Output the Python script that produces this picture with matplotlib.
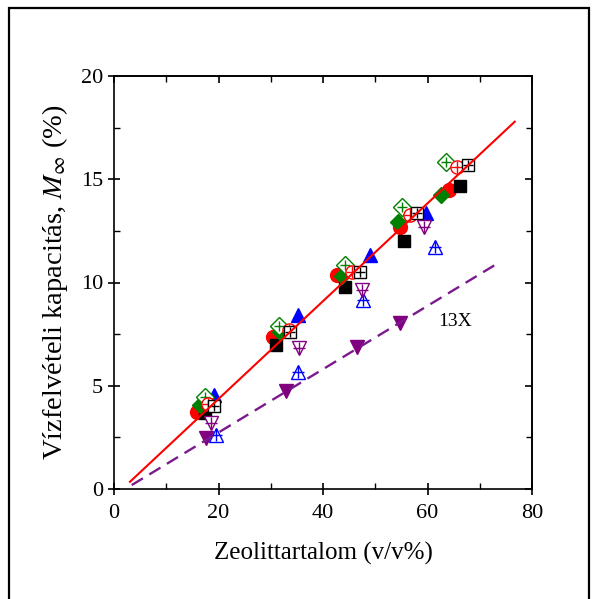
import matplotlib
matplotlib.use("Agg")
import matplotlib.pyplot as plt
from matplotlib.patches import Rectangle
from matplotlib.ticker import MultipleLocator, NullFormatter
import numpy as np

plt.rcParams['font.family'] = ['Liberation Serif', 'DejaVu Serif']
plt.rcParams['mathtext.fontset'] = 'stix'

# zeolite content (v/v%) and water uptake (%) for each sample series
red_x = [15.8, 30.5, 42.6, 54.7, 64.2]
red_y = [3.74, 7.38, 10.36, 12.7, 14.48]
black_x = [17.4, 31.1, 44.2, 55.5, 66.2]
black_y = [3.67, 6.97, 9.8, 12.03, 14.68]
green_x = [16.5, 31.8, 43.6, 54.4, 62.5]
green_y = [4.07, 7.62, 10.31, 12.95, 14.24]
blue_x = [19.2, 35.3, 49.0, 59.8]
blue_y = [4.55, 8.43, 11.33, 13.35]
purple_x = [17.7, 33.0, 46.6, 54.7]
purple_y = [2.45, 4.75, 6.9, 8.04]

green_o_x = [17.4, 31.6, 44.2, 55.1, 63.5]
green_o_y = [4.47, 7.89, 10.85, 13.67, 15.85]
red_o_x = [18.0, 33.4, 45.5, 56.6, 65.6]
red_o_y = [4.1, 7.7, 10.5, 13.27, 15.61]
black_o_x = [19.2, 33.6, 47.1, 57.9, 67.8]
black_o_y = [4.02, 7.58, 10.52, 13.35, 15.69]
blue_o_x = [19.6, 35.2, 47.6, 61.4]
blue_o_y = [2.6, 5.68, 9.15, 11.73]
purple_o_x = [18.6, 35.4, 47.4, 59.4]
purple_o_y = [3.18, 6.81, 9.64, 12.7]

# linear fits: slope, intercept, x range
fit_all = (0.2368, -0.375, 3.06, 76.7)
fit_13x = (0.1533, -0.33, 3.4, 72.8)

fig = plt.figure(figsize=(5.93, 5.99), dpi=100)
ax = fig.add_axes([114 / 593, 1 - 489 / 599, 418 / 593, 413 / 599])

# fit lines
for (k, b, x0, x1), col, lw, ls in [(fit_all, 'red', 1.5, '-'),
                                    (fit_13x, '#7b1a8c', 1.7, (0, (5.5, 3.2)))]:
    xs = np.array([x0, x1])
    ax.plot(xs, k * xs + b, color=col, lw=lw, ls=ls, zorder=3)

# filled symbols
ax.plot(red_x, red_y, 'o', color='red', ms=10, ls='none', zorder=2)
ax.plot(black_x, black_y, 's', color='black', ms=8.5, ls='none', zorder=2)
ax.plot(green_x, green_y, 'D', color='green', ms=8, ls='none', zorder=2)
ax.plot(blue_x, blue_y, '^', color='blue', ms=10.5, ls='none', zorder=2)
ax.plot(purple_x, purple_y, 'v', color='#800080', ms=10.5, ls='none', zorder=2)


def crossed(x, y, marker, color, ms):
    # open symbol with a cross inside
    ax.plot(x, y, marker, mfc='white', mec=color, mew=1.0, ms=ms, ls='none', zorder=2)
    ax.plot(x, y, '+', color=color, mew=1.0, ms=ms * 0.85, ls='none', zorder=2)


crossed(green_o_x, green_o_y, 'D', 'green', 9)
crossed(red_o_x, red_o_y, 'o', 'red', 9.5)
crossed(black_o_x, black_o_y, 's', 'black', 8)
crossed(blue_o_x, blue_o_y, '^', 'blue', 10)
crossed(purple_o_x, purple_o_y, 'v', '#800080', 10)

ax.text(65.2, 8.1, '13X', fontsize=14, ha='center', va='center')

ax.set_xlim(0, 80)
ax.set_ylim(0, 20)
ax.xaxis.set_major_locator(MultipleLocator(20))
ax.xaxis.set_minor_locator(MultipleLocator(10))
ax.yaxis.set_major_locator(MultipleLocator(5))
ax.yaxis.set_minor_locator(MultipleLocator(2.5))
ax.tick_params(which='major', direction='inout', length=9, width=1.2, labelsize=16)
ax.tick_params(axis='x', which='major', pad=6)
ax.tick_params(which='minor', direction='in', length=4, width=1.0)
for s in ax.spines.values():
    s.set_linewidth(1.2)

# top and right: inward ticks only, no labels
top = ax.secondary_xaxis('top')
right = ax.secondary_yaxis('right')
for sec, axis, step in [(top, top.xaxis, 20), (right, right.yaxis, 5)]:
    axis.set_major_locator(MultipleLocator(step))
    axis.set_minor_locator(MultipleLocator(step / 2))
    axis.set_major_formatter(NullFormatter())
    sec.tick_params(which='major', direction='in', length=5, width=1.2)
    sec.tick_params(which='minor', direction='in', length=4, width=1.0)
    for s in sec.spines.values():
        s.set_linewidth(1.2)

ax.set_xlabel('Zeolittartalom (v/v%)', fontsize=18, labelpad=14)
ax.set_ylabel(r'Vízfelvételi kapacitás, $M_{\infty}$ (%)', fontsize=20.5, labelpad=8)

fig.add_artist(Rectangle((9 / 593, -0.02), 580 / 593, 1 - 8 / 599 + 0.02,
                         transform=fig.transFigure, fill=False, lw=1.6, ec='black'))

fig.savefig('out.png', dpi=100)
